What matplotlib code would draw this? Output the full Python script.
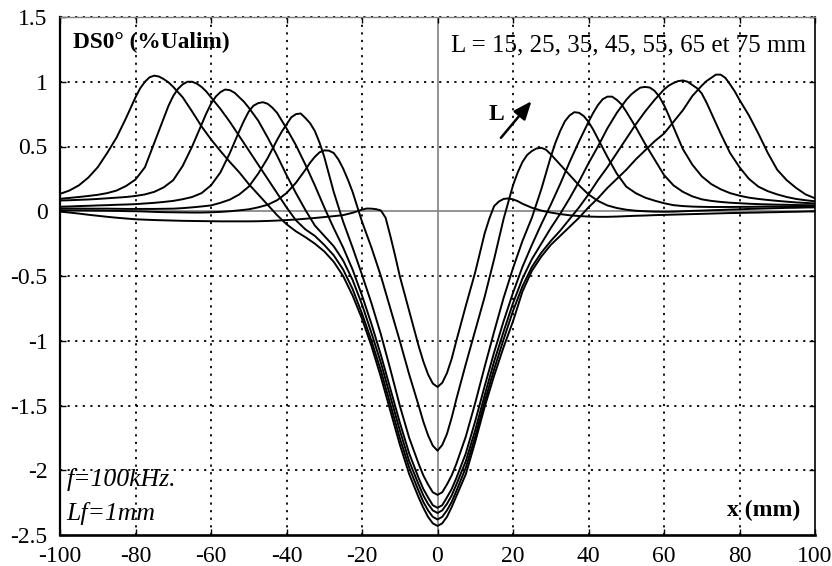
import numpy as np
import matplotlib
matplotlib.use("Agg")
import matplotlib.pyplot as plt

plt.rcParams["font.family"] = ["Liberation Serif", "DejaVu Serif"]
plt.rcParams["axes.unicode_minus"] = False

# Position along x (mm), sampled every 2.5 mm
x_mm = np.linspace(-100, 100, 81)

# DS0 signal (% Ualim), one list per spacing L
ds_l15 = [-0.003, -0.010, -0.018, -0.027, -0.035, -0.043, -0.050, -0.056, -0.062, -0.065,
          -0.068, -0.070, -0.072, -0.074, -0.075, -0.076, -0.077, -0.078, -0.078, -0.078,
          -0.078, -0.077, -0.075, -0.072, -0.068, -0.064, -0.058, -0.052, -0.045, -0.038,
          -0.030, -0.012, 0.012, 0.020, 0.006, -0.19, -0.50, -0.77, -1.04, -1.26,
          -1.357,
          -1.25, -1.00, -0.73, -0.47, -0.17, 0.04, 0.095, 0.092, 0.058, 0.027,
          0.005, -0.010, -0.022, -0.031, -0.037, -0.041, -0.043, -0.043, -0.041, -0.038,
          -0.035, -0.033, -0.030, -0.028, -0.026, -0.024, -0.022, -0.020, -0.018, -0.016,
          -0.014, -0.013, -0.011, -0.010, -0.008, -0.007, -0.005, -0.004, -0.002, 0.000]

ds_l25 = [0.008, 0.007, 0.007, 0.006, 0.005, 0.004, 0.003, 0.001, 0.000, -0.002,
          -0.005, -0.007, -0.008, -0.009, -0.010, -0.010, -0.008, -0.005, 0.000, 0.007,
          0.015, 0.030, 0.050, 0.085, 0.14, 0.22, 0.32, 0.42, 0.47, 0.45,
          0.33, 0.15, -0.08, -0.28, -0.50, -0.75, -1.00, -1.26, -1.50, -1.73,
          -1.849,
          -1.72, -1.45, -1.18, -0.92, -0.66, -0.37, -0.06, 0.20, 0.38, 0.465,
          0.49, 0.44, 0.36, 0.28, 0.20, 0.13, 0.08, 0.045, 0.025, 0.012,
          0.004, 0.000, -0.003, -0.004, -0.003, 0.000, 0.003, 0.005, 0.008, 0.010,
          0.013, 0.015, 0.018, 0.020, 0.022, 0.024, 0.026, 0.027, 0.029, 0.030]

ds_l35 = [0.021, 0.021, 0.021, 0.020, 0.020, 0.020, 0.019, 0.018, 0.018, 0.018,
          0.018, 0.019, 0.020, 0.024, 0.030, 0.037, 0.045, 0.065, 0.09, 0.13,
          0.19, 0.29, 0.41, 0.55, 0.67, 0.75, 0.72, 0.62, 0.42, 0.15,
          -0.08, -0.28, -0.49, -0.71, -0.95, -1.22, -1.50, -1.75, -1.95, -2.11,
          -2.19,
          -2.11, -1.95, -1.74, -1.48, -1.20, -0.93, -0.67, -0.44, -0.23, -0.05,
          0.17, 0.42, 0.62, 0.74, 0.76, 0.69, 0.56, 0.42, 0.29, 0.19,
          0.14, 0.105, 0.082, 0.062, 0.047, 0.040, 0.036, 0.034, 0.033, 0.033,
          0.033, 0.034, 0.034, 0.035, 0.036, 0.036, 0.037, 0.038, 0.038, 0.039]

ds_l45 = [0.035, 0.037, 0.040, 0.042, 0.045, 0.047, 0.050, 0.052, 0.055, 0.060,
          0.065, 0.072, 0.080, 0.093, 0.11, 0.14, 0.20, 0.30, 0.45, 0.62,
          0.77, 0.835, 0.83, 0.76, 0.64, 0.51, 0.36, 0.20, 0.03, -0.13,
          -0.28, -0.45, -0.65, -0.87, -1.11, -1.37, -1.63, -1.87, -2.06, -2.21,
          -2.29,
          -2.21, -2.06, -1.87, -1.62, -1.35, -1.09, -0.85, -0.63, -0.43, -0.26,
          -0.10, 0.05, 0.21, 0.38, 0.54, 0.69, 0.82, 0.885, 0.86, 0.77,
          0.65, 0.52, 0.40, 0.28, 0.20, 0.15, 0.115, 0.092, 0.080, 0.072,
          0.066, 0.062, 0.058, 0.055, 0.053, 0.051, 0.050, 0.048, 0.047, 0.046]

ds_l55 = [0.083, 0.085, 0.088, 0.091, 0.095, 0.100, 0.105, 0.110, 0.118, 0.130,
          0.150, 0.185, 0.24, 0.35, 0.50, 0.67, 0.83, 0.92, 0.935, 0.88,
          0.80, 0.70, 0.57, 0.43, 0.28, 0.14, 0.01, -0.11, -0.19, -0.27,
          -0.38, -0.53, -0.72, -0.94, -1.17, -1.43, -1.69, -1.93, -2.11, -2.26,
          -2.33,
          -2.26, -2.11, -1.93, -1.69, -1.42, -1.16, -0.93, -0.71, -0.52, -0.37,
          -0.25, -0.13, -0.02, 0.10, 0.23, 0.37, 0.50, 0.64, 0.76, 0.86,
          0.93, 0.96, 0.93, 0.82, 0.65, 0.48, 0.36, 0.27, 0.21, 0.17,
          0.14, 0.12, 0.105, 0.095, 0.087, 0.080, 0.074, 0.068, 0.064, 0.060]

ds_l65 = [0.096, 0.103, 0.110, 0.118, 0.127, 0.140, 0.160, 0.195, 0.245, 0.34,
          0.53, 0.72, 0.89, 0.98, 1.00, 0.96, 0.88, 0.79, 0.69, 0.58,
          0.47, 0.36, 0.25, 0.14, 0.03, -0.07, -0.14, -0.19, -0.26, -0.34,
          -0.45, -0.60, -0.79, -1.00, -1.23, -1.49, -1.75, -1.98, -2.16, -2.31,
          -2.38,
          -2.31, -2.16, -1.98, -1.74, -1.47, -1.22, -0.99, -0.77, -0.58, -0.43,
          -0.32, -0.23, -0.15, -0.06, 0.03, 0.13, 0.24, 0.34, 0.45, 0.56,
          0.67, 0.77, 0.86, 0.94, 0.99, 1.01, 0.975, 0.91, 0.76, 0.60,
          0.45, 0.34, 0.25, 0.19, 0.155, 0.13, 0.11, 0.095, 0.085, 0.077]

ds_l75 = [0.134, 0.16, 0.20, 0.26, 0.34, 0.45, 0.57, 0.72, 0.88, 1.00,
          1.047, 1.02, 0.96, 0.88, 0.77, 0.655, 0.555, 0.465, 0.38, 0.30,
          0.21, 0.13, 0.05, -0.03, -0.10, -0.155, -0.20, -0.25, -0.31, -0.39,
          -0.50, -0.65, -0.83, -1.04, -1.28, -1.54, -1.80, -2.03, -2.21, -2.36,
          -2.43,
          -2.36, -2.20, -2.03, -1.78, -1.51, -1.27, -1.05, -0.85, -0.62, -0.46,
          -0.35, -0.26, -0.19, -0.12, -0.05, 0.03, 0.10, 0.18, 0.25, 0.32,
          0.40, 0.47, 0.54, 0.60, 0.69, 0.78, 0.89, 0.97, 1.03, 1.055,
          0.98, 0.86, 0.74, 0.60, 0.45, 0.32, 0.24, 0.18, 0.13, 0.10]

# Extra readings at 1.25 mm offsets around peaks and the central dip
fine_x_l15 = [-21.25, -18.75, -16.25, -13.75, -11.25, -8.75, -6.25, -3.75, -1.25,
              1.25, 3.75, 6.25, 8.75, 11.25, 13.75, 16.25, 18.75, 21.25]
fine_y_l15 = [0.000, 0.021, 0.016, -0.05, -0.34, -0.635, -0.905, -1.16, -1.33,
              -1.325, -1.14, -0.865, -0.60, -0.32, -0.055, 0.075, 0.099, 0.078]

fine_x_l25 = [-33.75, -31.25, -28.75, -26.25, -23.75, -6.25, -3.75, -1.25,
              1.25, 3.75, 6.25, 21.25, 23.75, 26.25, 28.75, 31.25]
fine_y_l25 = [0.375, 0.455, 0.468, 0.40, 0.245, -1.38, -1.625, -1.81,
              -1.805, -1.595, -1.315, 0.30, 0.435, 0.485, 0.475, 0.40]

fine_x_l35 = [-41.25, -38.75, -36.25, -33.75, -31.25, -3.75, -1.25,
              1.25, 3.75, 31.25, 33.75, 36.25, 38.75, 41.25]
fine_y_l35 = [0.615, 0.725, 0.755, 0.68, 0.53, -2.04, -2.17,
              -2.17, -2.04, 0.53, 0.695, 0.765, 0.735, 0.63]

fine_x_l45 = [-51.25, -48.75, -46.25, -43.75, -41.25, -3.75, -1.25,
              1.25, 3.75, 41.25, 43.75, 46.25, 48.75, 51.25]
fine_y_l45 = [0.70, 0.815, 0.842, 0.80, 0.70, -2.145, -2.27,
              -2.27, -2.145, 0.76, 0.865, 0.885, 0.825, 0.71]

fine_x_l55 = [-61.25, -58.75, -56.25, -53.75, -51.25, -3.75, -1.25,
              1.25, 3.75, 51.25, 53.75, 56.25, 58.75, 61.25]
fine_y_l55 = [0.755, 0.885, 0.94, 0.915, 0.845, -2.195, -2.31,
              -2.31, -2.195, 0.90, 0.955, 0.955, 0.885, 0.74]

fine_x_l65 = [-71.25, -68.75, -66.25, -63.75, -61.25, -3.75, -1.25,
              1.25, 3.75, 61.25, 63.75, 66.25, 68.75, 71.25]
fine_y_l65 = [0.815, 0.945, 1.00, 0.985, 0.925, -2.245, -2.36,
              -2.36, -2.245, 0.97, 1.005, 1.00, 0.95, 0.84]

fine_x_l75 = [-81.25, -78.75, -76.25, -73.75, -71.25, -3.75, -1.25,
              1.25, 3.75, 71.25, 73.75, 76.25, 78.75]
fine_y_l75 = [0.80, 0.95, 1.035, 1.04, 0.995, -2.29, -2.41,
              -2.41, -2.285, 1.005, 1.055, 1.03, 0.925]

curves = [(ds_l15, fine_x_l15, fine_y_l15),
          (ds_l25, fine_x_l25, fine_y_l25),
          (ds_l35, fine_x_l35, fine_y_l35),
          (ds_l45, fine_x_l45, fine_y_l45),
          (ds_l55, fine_x_l55, fine_y_l55),
          (ds_l65, fine_x_l65, fine_y_l65),
          (ds_l75, fine_x_l75, fine_y_l75)]

x_ticks = [-100, -80, -60, -40, -20, 0, 20, 40, 60, 80, 100]
x_ticklabels = ["-100", "-80", "-60", "-40", "-20", "0", "20", "40", "60", "80", "100"]
y_ticks = [-2.5, -2, -1.5, -1, -0.5, 0, 0.5, 1, 1.5]
y_ticklabels = ["-2.5", "-2", "-1.5", "-1", "-0.5", "0", "0.5", "1", "1.5"]
x_grid = [-80, -60, -40, -20, 20, 40, 60, 80]
y_grid = [-2, -1.5, -1, -0.5, 0.5, 1]

fig = plt.figure(figsize=(8.32, 5.66), dpi=100)
ax = fig.add_axes([60 / 832, 31 / 566, 755 / 832, 518 / 566])

dotted = (0, (1.2, 3.0))
for g in x_grid:
    ax.axvline(g, color="k", lw=1.3, ls=dotted, zorder=1)
for g in y_grid:
    ax.axhline(g, color="k", lw=1.3, ls=dotted, zorder=1)
ax.axhline(0, color="#808080", lw=1.2, zorder=1.5)
ax.axvline(0, color="#808080", lw=1.2, zorder=1.5)
# dotted overlay on the top frame
ax.axhline(1.5, color="k", lw=1.3, ls=dotted, zorder=2.5, clip_on=False)

for base, fx, fy in curves:
    xs = np.concatenate([x_mm, fx])
    ys = np.concatenate([base, fy])
    order = np.argsort(xs)
    ax.plot(xs[order], ys[order], color="k", lw=1.4, zorder=3,
            solid_joinstyle="round")

ax.set_xlim(-100, 100)
ax.set_ylim(-2.5, 1.5)
ax.set_xticks(x_ticks)
ax.set_xticklabels(x_ticklabels)
ax.set_yticks(y_ticks)
ax.set_yticklabels(y_ticklabels)
ax.tick_params(direction="in", length=4, width=1, top=True, right=True,
               labelsize=17)
ax.tick_params(axis="x", pad=8)
ax.tick_params(axis="y", pad=9)

ax.spines["left"].set_linewidth(1.6)
ax.spines["bottom"].set_linewidth(1.9)
ax.spines["right"].set_linewidth(1.2)
ax.spines["top"].set_linewidth(1.0)
ax.spines["top"].set_color("#808080")

# Labels inside the frame
ax.text(0.017, 0.95, "DS0° (%Ualim)", transform=ax.transAxes, ha="left",
        va="center", fontsize=16.8, fontweight="bold")
ax.text(0.988, 0.946, "L = 15, 25, 35, 45, 55, 65 et 75 mm",
        transform=ax.transAxes, ha="right", va="center", fontsize=18)
ax.text(0.578, 0.811, "L", transform=ax.transAxes, ha="center", va="center",
        fontsize=17, fontweight="bold")
ax.annotate("", xy=(24.9, 0.85), xytext=(16.8, 0.567),
            arrowprops=dict(arrowstyle="-|>,head_length=1.1,head_width=0.45",
                            color="k", lw=1.8, shrinkA=0, shrinkB=0))
ax.text(0.009, 0.108, "f=100kHz.", transform=ax.transAxes, ha="left",
        va="center", fontsize=18.5, fontstyle="italic")
ax.text(0.009, 0.042, "Lf=1mm", transform=ax.transAxes, ha="left",
        va="center", fontsize=18.5, fontstyle="italic")
ax.text(0.98, 0.048, "x (mm)", transform=ax.transAxes, ha="right",
        va="center", fontsize=17, fontweight="bold")

fig.savefig("out.png", dpi=100)
